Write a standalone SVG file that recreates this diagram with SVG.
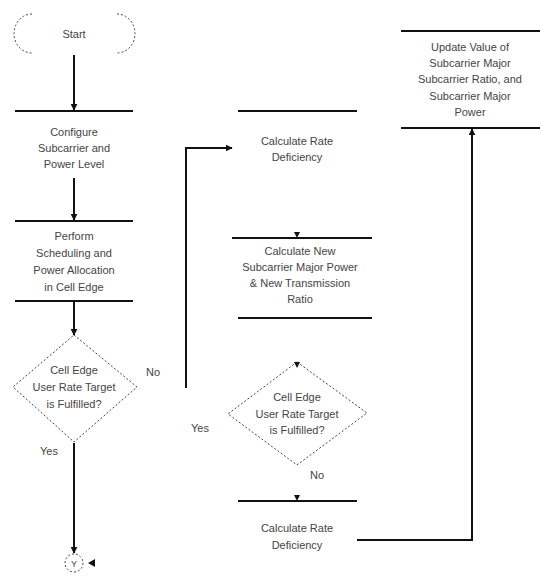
<svg xmlns="http://www.w3.org/2000/svg" width="542" height="576" viewBox="0 0 542 576">
<defs>
<marker id="ah" viewBox="0 0 10 10" refX="9" refY="5" markerWidth="7" markerHeight="7" markerUnits="userSpaceOnUse" orient="auto"><path d="M0,0 L10,5 L0,10 z" fill="#111"/></marker>
<style>
text{font-family:"Liberation Sans",Arial,sans-serif;font-size:11px;fill:#444;text-anchor:middle}
.bar{stroke:#111;stroke-width:2;fill:none}
.dash{stroke:#444;stroke-width:1;stroke-dasharray:2,2;fill:none}
.con{stroke:#111;stroke-width:2;fill:none}
.lbl{text-anchor:start}
</style>
</defs>
<rect width="542" height="576" fill="#fff"/>
<g id="start">
<path class="dash" d="M32,14 A18,19.5 0 0 0 32,53"/>
<path class="dash" d="M117,14 A18,19.5 0 0 1 117,53"/>
<text x="74" y="38">Start</text>
</g>
<g id="configure">
<line class="bar" x1="15" y1="111" x2="133" y2="111"/>
<text x="74" y="136">Configure</text>
<text x="74" y="152">Subcarrier and</text>
<text x="74" y="168">Power Level</text>
</g>
<g id="perform">
<line class="bar" x1="15" y1="221" x2="133" y2="221"/>
<text x="74" y="240">Perform</text>
<text x="74" y="257">Scheduling and</text>
<text x="74" y="274">Power Allocation</text>
<text x="74" y="291">in Cell Edge</text>
<line class="bar" x1="15" y1="301" x2="133" y2="301"/>
</g>
<g id="decision1">
<path class="dash" d="M74,335 L137,387 L74,442 L13,387 Z"/>
<text x="74" y="374">Cell Edge</text>
<text x="74" y="391">User Rate Target</text>
<text x="74" y="408">is Fulfilled?</text>
</g>
<g id="connector">
<circle class="dash" cx="74" cy="563" r="9"/>
<text x="74" y="567" style="font-size:9px">Y</text>
</g>
<g id="calc1">
<line class="bar" x1="238" y1="111" x2="357" y2="111"/>
<text x="297" y="145">Calculate Rate</text>
<text x="297" y="161">Deficiency</text>
</g>
<g id="calcnew">
<line class="bar" x1="232" y1="238" x2="372" y2="238"/>
<text x="300" y="255">Calculate New</text>
<text x="300" y="271">Subcarrier Major Power</text>
<text x="300" y="287">&amp; New Transmission</text>
<text x="300" y="303">Ratio</text>
<line class="bar" x1="238" y1="318" x2="372" y2="318"/>
</g>
<g id="decision2">
<path class="dash" d="M297,362 L367,413 L297,465 L228,414 Z"/>
<text x="297" y="401">Cell Edge</text>
<text x="297" y="418">User Rate Target</text>
<text x="297" y="434">is Fulfilled?</text>
</g>
<g id="calc2">
<line class="bar" x1="238" y1="501" x2="357" y2="501"/>
<text x="297" y="532">Calculate Rate</text>
<text x="297" y="549">Deficiency</text>
</g>
<g id="update">
<line class="bar" x1="401" y1="31" x2="540" y2="31"/>
<text x="470" y="51">Update Value of</text>
<text x="470" y="67">Subcarrier Major</text>
<text x="470" y="83">Subcarrier Ratio, and</text>
<text x="470" y="100">Subcarrier Major</text>
<text x="470" y="116">Power</text>
<line class="bar" x1="401" y1="128" x2="540" y2="128"/>
</g>
<g id="connectors">
<line class="con" x1="74" y1="55" x2="74" y2="110" marker-end="url(#ah)"/>
<line class="con" x1="74" y1="178" x2="74" y2="220" marker-end="url(#ah)"/>
<line class="con" x1="74" y1="302" x2="74" y2="335" marker-end="url(#ah)"/>
<line class="con" x1="74" y1="443" x2="74" y2="553" marker-end="url(#ah)"/>
<path d="M95,559 L88,563 L95,567 z" fill="#111"/>
<polyline class="con" points="186,388 186,148 232,148" marker-end="url(#ah)"/>
<path d="M294,232 L300,232 L297,238 z" fill="#111"/>
<path d="M294,362 L300,362 L297,368 z" fill="#111"/>
<path d="M294,495 L300,495 L297,501 z" fill="#111"/>
<polyline class="con" points="357,540 472,540 472,129" marker-end="url(#ah)"/>
<text class="lbl" x="146" y="376">No</text>
<text class="lbl" x="40" y="455">Yes</text>
<text class="lbl" x="191" y="432">Yes</text>
<text class="lbl" x="310" y="479">No</text>
</g>
</svg>
